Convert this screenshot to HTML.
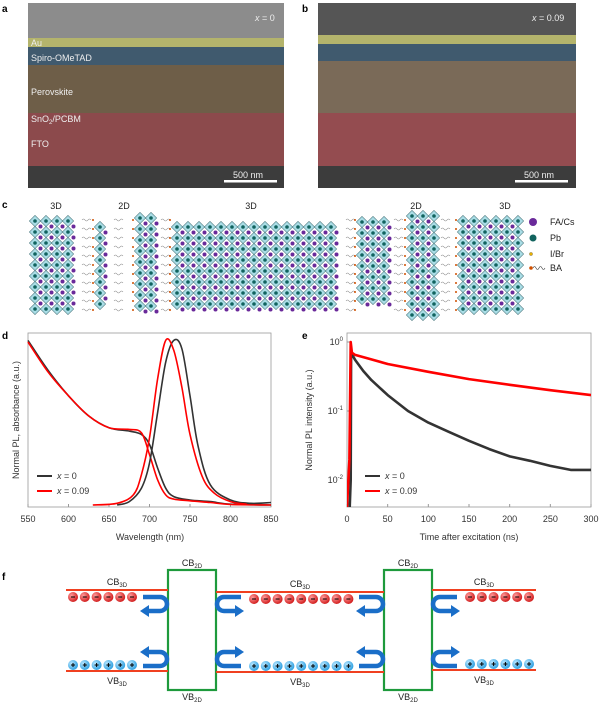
<!DOCTYPE html>
<html><head><meta charset="utf-8"><style>
body{margin:0;background:#fff}
svg{display:block;font-family:"Liberation Sans",sans-serif}
</style></head><body>
<svg id="fig" width="600" height="706" viewBox="0 0 600 706" xmlns="http://www.w3.org/2000/svg">
<defs>
<radialGradient id="eg" cx="0.35" cy="0.35" r="0.7"><stop offset="0" stop-color="#ff9a9a"/><stop offset="1" stop-color="#d01818"/></radialGradient>
<radialGradient id="hg" cx="0.35" cy="0.35" r="0.7"><stop offset="0" stop-color="#b8e6ff"/><stop offset="1" stop-color="#2a9ee0"/></radialGradient>
</defs>
<g>
<text x="2" y="12" font-size="10" font-weight="bold">a</text>
<rect x="28" y="3" width="256" height="35" fill="#8c8c8c"/>
<rect x="28" y="38" width="256" height="9" fill="#b4b46c"/>
<rect x="28" y="47" width="256" height="18" fill="#405a6e"/>
<rect x="28" y="65" width="256" height="48" fill="#6e5e48"/>
<rect x="28" y="113" width="256" height="53" fill="#8c4a4c"/>
<rect x="28" y="166" width="256" height="22" fill="#3c3c3c"/>
<g fill="#eee" font-size="9">
<text x="31" y="46">Au</text><text x="31" y="61">Spiro-OMeTAD</text><text x="31" y="95">Perovskite</text>
<text x="31" y="122">SnO<tspan font-size="6" dy="2">2</tspan><tspan dy="-2">/PCBM</tspan></text><text x="31" y="147">FTO</text>
<text x="255" y="21" font-size="9"><tspan font-style="italic">x</tspan> = 0</text>
<text x="233" y="178" font-size="9">500 nm</text></g>
<rect x="224" y="180" width="53" height="2.5" fill="#fff"/>
</g>
<g>
<text x="302" y="12" font-size="10" font-weight="bold">b</text>
<rect x="318" y="3" width="258" height="32" fill="#555"/>
<rect x="318" y="35" width="258" height="9" fill="#b4b46c"/>
<rect x="318" y="44" width="258" height="17" fill="#405a6e"/>
<rect x="318" y="61" width="258" height="52" fill="#7a6a58"/>
<rect x="318" y="113" width="258" height="53" fill="#944c50"/>
<rect x="318" y="166" width="258" height="22" fill="#3c3c3c"/>
<g fill="#eee" font-size="9"><text x="532" y="21"><tspan font-style="italic">x</tspan> = 0.09</text><text x="524" y="178">500 nm</text></g>
<rect x="515" y="180" width="53" height="2.5" fill="#fff"/>
</g>
<g id="pc">
<text x="2" y="208" font-size="10" font-weight="bold">c</text>
<g font-size="9" fill="#222" text-anchor="middle">
<text x="56" y="209">3D</text><text x="124" y="209">2D</text><text x="251" y="209">3D</text><text x="416" y="209">2D</text><text x="505" y="209">3D</text></g>
<g font-size="9" fill="#222">
<circle cx="533" cy="222" r="4" fill="#6a2a9a"/><text x="550" y="225">FA/Cs</text>
<circle cx="533" cy="238" r="3.5" fill="#11635e"/><text x="550" y="241">Pb</text>
<circle cx="531" cy="254" r="1.6" fill="#e8b000" stroke="#444" stroke-width="0.3"/><text x="550" y="257">I/Br</text>
<circle cx="531" cy="268" r="1.8" fill="#d05000"/><path d="M533 268 q1.5 -3 3 0 t3 0 t3 0 t3 0" fill="none" stroke="#333" stroke-width="0.6"/><text x="550" y="271">BA</text>
</g>
</g>
<g id="pd">
<text x="2" y="339" font-size="10" font-weight="bold">d</text>
<rect x="28" y="333" width="243" height="174" fill="none" stroke="#999" stroke-width="0.8"/>
<text x="150" y="540" font-size="9" fill="#333" text-anchor="middle">Wavelength (nm)</text>
<text transform="translate(19,420) rotate(-90)" font-size="9" fill="#333" text-anchor="middle">Normal PL, absorbance (a.u.)</text>
<line x1="37" y1="476" x2="52" y2="476" stroke="#333" stroke-width="2"/><text x="57" y="479" font-size="9" fill="#333"><tspan font-style="italic">x</tspan> = 0</text>
<line x1="37" y1="491" x2="52" y2="491" stroke="#f00" stroke-width="2"/><text x="57" y="494" font-size="9" fill="#333"><tspan font-style="italic">x</tspan> = 0.09</text>
</g>
<g id="pe">
<text x="302" y="339" font-size="10" font-weight="bold">e</text>
<rect x="347" y="333" width="244" height="174" fill="none" stroke="#999" stroke-width="0.8"/>
<text x="469" y="540" font-size="9" fill="#333" text-anchor="middle">Time after excitation (ns)</text>
<text transform="translate(312,420) rotate(-90)" font-size="9" fill="#333" text-anchor="middle">Normal PL intensity (a.u.)</text>
<line x1="365" y1="476" x2="380" y2="476" stroke="#333" stroke-width="2"/><text x="385" y="479" font-size="9" fill="#333"><tspan font-style="italic">x</tspan> = 0</text>
<line x1="365" y1="491" x2="380" y2="491" stroke="#f00" stroke-width="2"/><text x="385" y="494" font-size="9" fill="#333"><tspan font-style="italic">x</tspan> = 0.09</text>
</g>
<g id="pf">
<text x="2" y="580" font-size="10" font-weight="bold">f</text>
</g>
</svg>
<script>
// ---- panel d data ----
const absWl = [550,575,600,625,650,675,690,700,710,720,730,750,775,800,850];
const absX0 = [0.98,0.80,0.65,0.53,0.46,0.44,0.42,0.36,0.22,0.10,0.05,0.03,0.02,0.005,0.0];
const absX9 = [0.97,0.79,0.65,0.53,0.46,0.45,0.43,0.30,0.15,0.06,0.035,0.025,0.015,0.003,0.0];
const plWl0 = [660,675,690,700,710,720,730,740,750,760,775,800,825,850];
const plX0  = [0.0,0.02,0.10,0.25,0.55,0.85,0.98,0.93,0.65,0.35,0.12,0.03,0.01,0.015];
const plWl9 = [630,660,680,690,700,710,720,730,740,750,765,780,800,820];
const plX9  = [0.0,0.01,0.06,0.18,0.40,0.75,0.98,0.92,0.70,0.42,0.17,0.07,0.02,0.005];
const dTicks = [550,600,650,700,750,800,850];
// ---- panel e data ----
const tX9 = [0,3,4.5,6,10,25,50,100,150,200,250,300];
const iX9 = [0.004,0.02,1.0,0.70,0.65,0.58,0.48,0.37,0.29,0.24,0.20,0.17];
const tX0 = [3,4.5,5,10,20,30,50,75,100,125,150,175,200,225,250,275,300];
const iX0 = [0.003,0.01,0.70,0.55,0.38,0.28,0.17,0.10,0.068,0.05,0.037,0.028,0.022,0.019,0.016,0.014,0.014];
const eTicks = [0,50,100,150,200,250,300];
const eDecades = [0,-1,-2];

const NS='http://www.w3.org/2000/svg';
function mk(tag,attrs,parent){const e=document.createElementNS(NS,tag);for(const k in attrs)e.setAttribute(k,attrs[k]);parent.appendChild(e);return e;}
const pd=document.getElementById('pd'), pe=document.getElementById('pe'), pc=document.getElementById('pc'), pf=document.getElementById('pf');

const dx=w=>28+(w-550)/300*243, dy=v=>505-v*168;
dTicks.forEach(t=>{
  mk('line',{x1:dx(t),y1:507,x2:dx(t),y2:504,stroke:'#999'},pd);
  const tx=mk('text',{x:dx(t),y:522,'font-size':9,fill:'#333','text-anchor':'middle'},pd);tx.textContent=t;
  
  
});
function line(xs,ys,fx,fy,col,parent,name,w,smooth){
  const P=xs.map((x,i)=>[fx(x),fy(ys[i])]);
  let d='M'+P[0][0].toFixed(1)+' '+P[0][1].toFixed(1);
  for(let i=0;i<P.length-1;i++){
    if(!smooth){d+='L'+P[i+1][0].toFixed(1)+' '+P[i+1][1].toFixed(1);continue;}
    const p0=P[Math.max(i-1,0)],p1=P[i],p2=P[i+1],p3=P[Math.min(i+2,P.length-1)];
    const c1=[p1[0]+(p2[0]-p0[0])/6,p1[1]+(p2[1]-p0[1])/6],c2=[p2[0]-(p3[0]-p1[0])/6,p2[1]-(p3[1]-p1[1])/6];
    d+=`C${c1[0].toFixed(1)} ${c1[1].toFixed(1)} ${c2[0].toFixed(1)} ${c2[1].toFixed(1)} ${p2[0].toFixed(1)} ${p2[1].toFixed(1)}`;
  }
  const p=mk('path',{d:d,fill:'none',stroke:col,'stroke-width':w||1.6,'stroke-linejoin':'round'},parent);
  
  
}
line(absWl,absX0,dx,dy,'#333',pd,'absorbance-x0',1.6,true);
line(absWl,absX9,dx,dy,'#f00',pd,'absorbance-x009',1.6,true);
line(plWl0,plX0,dx,dy,'#333',pd,'pl-x0',1.6,true);
line(plWl9,plX9,dx,dy,'#f00',pd,'pl-x009',1.6,true);

const ex=t=>347+t/300*244, ey=v=>342-Math.log10(v)*69;
eTicks.forEach(t=>{
  mk('line',{x1:ex(t),y1:507,x2:ex(t),y2:504,stroke:'#999'},pe);
  const tx=mk('text',{x:ex(t),y:522,'font-size':9,fill:'#333','text-anchor':'middle'},pe);tx.textContent=t;
  
  
});
eDecades.forEach(k=>{
  const y=ey(Math.pow(10,k));
  mk('line',{x1:347,y1:y,x2:350,y2:y,stroke:'#999'},pe);
  const tx=mk('text',{x:343,y:y+3,'font-size':9,fill:'#333','text-anchor':'end'},pe);
  tx.innerHTML='10<tspan font-size="6" dy="-4">'+k+'</tspan>';
  
  
});
const clip=mk('clipPath',{id:'ec'},pe);mk('rect',{x:347,y:333,width:244,height:174},clip);
const eg=mk('g',{'clip-path':'url(#ec)'},pe);
line(tX0,iX0,ex,ey,'#333',eg,'decay-x0',2.6,false);
line(tX9,iX9,ex,ey,'#f00',eg,'decay-x009',2.6,false);

const blocks=[[30,80,216,314],[95,113,222,310],[135,160,213,318],[172,345,222,312],[357,393,217,312],[407,440,211,322],[458,522,216,316]];
blocks.forEach(b=>{
  const g=mk('g',{},pc);
  
  
  const s=11;
  for(let x=b[0]+5;x<=b[1]-4;x+=s){for(let y=b[2]+5;y<=b[3]-4;y+=s){
    mk('rect',{x:x-4,y:y-4,width:8,height:8,transform:`rotate(45 ${x} ${y})`,fill:'#aadde6',stroke:'#3a6a70','stroke-width':0.5},g);
    mk('circle',{cx:x,cy:y,r:1.8,fill:'#11635e'},g);
  }}
  for(let x=b[0]+10.5;x<=b[1]-2;x+=s){for(let y=b[2]+10.5;y<=b[3]-2;y+=s){
    mk('circle',{cx:x,cy:y,r:2,fill:'#6a2a9a'},g);
  }}
});
const gaps=[[82,93],[114,133],[161,170],[346,355],[394,405],[441,456]];
gaps.forEach(gp=>{
  const g=mk('g',{},pc);
  
  
  for(let y=220;y<=312;y+=9){
    mk('path',{d:`M${gp[0]} ${y} q1.5 -2 3 0 t3 0 t3 0`,fill:'none',stroke:'#888','stroke-width':0.6},g);
    mk('circle',{cx:gp[1],cy:y,r:1,fill:'#d05000'},g);
  }
});

function box(x){const r=mk('rect',{x:x,y:570,width:48,height:120,fill:'#fff',stroke:'#1e9a3c','stroke-width':2.2},pf);
  
  
  const a=mk('text',{x:x+24,y:566,'font-size':9,fill:'#222','text-anchor':'middle'},pf);a.innerHTML='CB<tspan font-size="6" dy="2">2D</tspan>';
  const b=mk('text',{x:x+24,y:700,'font-size':9,fill:'#222','text-anchor':'middle'},pf);b.innerHTML='VB<tspan font-size="6" dy="2">2D</tspan>';}
box(168);box(384);
const segs=[[66,168,590,671,73,6,128],[216,384,592,672,254,9,213],[432,536,590,670,470,6,497]];
segs.forEach(s=>{
  mk('line',{x1:s[0],y1:s[2],x2:s[1],y2:s[2],stroke:'#f04020','stroke-width':2},pf);
  mk('line',{x1:s[0],y1:s[3],x2:s[1],y2:s[3],stroke:'#f04020','stroke-width':2},pf);
  for(let i=0;i<s[5];i++){
    const cx=s[4]+i*11.8;
    const e=mk('circle',{cx:cx,cy:s[2]+7,r:5,fill:'url(#eg)'},pf);
    
    
    mk('line',{x1:cx-2,y1:s[2]+7,x2:cx+2,y2:s[2]+7,stroke:'#000','stroke-width':1},pf);
    const h=mk('circle',{cx:cx,cy:s[3]-6,r:5,fill:'url(#hg)'},pf);
    
    
    mk('path',{d:`M${cx-2} ${s[3]-6}h4M${cx} ${s[3]-8}v4`,stroke:'#000','stroke-width':1},pf);
  }
  const lt=mk('text',{x:(s[0]+s[1])/2,y:s[2]-5,'font-size':9,fill:'#222','text-anchor':'middle'},pf);lt.innerHTML='CB<tspan font-size="6" dy="2">3D</tspan>';
  const lb=mk('text',{x:(s[0]+s[1])/2,y:s[3]+13,'font-size':9,fill:'#222','text-anchor':'middle'},pf);lb.innerHTML='VB<tspan font-size="6" dy="2">3D</tspan>';
});
function uarrow(xb,dir,y1,y2){ // dir=-1: arrow left of box; +1: right of box
  const xs=xb+dir*25, xe=xb+dir*8, r=Math.abs(y2-y1)/2;
  const down=y2>y1;
  const sweep = dir<0 ? (down?1:0) : (down?0:1);
  const d=`M${xs} ${y1} H${xe} A${r} ${r} 0 0 ${sweep} ${xe} ${y2} H${xb+dir*20}`;
  const p=mk('path',{d:d,fill:'none',stroke:'#1a6ec8','stroke-width':4.5},pf);
  
  
  const tip=xb+dir*28, base=xb+dir*19;
  mk('path',{d:`M${tip} ${y2} L${base} ${y2-6} L${base} ${y2+6} Z`,fill:'#1a6ec8'},pf);
}
uarrow(168,-1,597,611);uarrow(168,-1,666,652);
uarrow(216,1,597,611);uarrow(216,1,666,652);
uarrow(384,-1,597,611);uarrow(384,-1,666,652);
uarrow(432,1,597,611);uarrow(432,1,666,652);
</script>
</body></html>
